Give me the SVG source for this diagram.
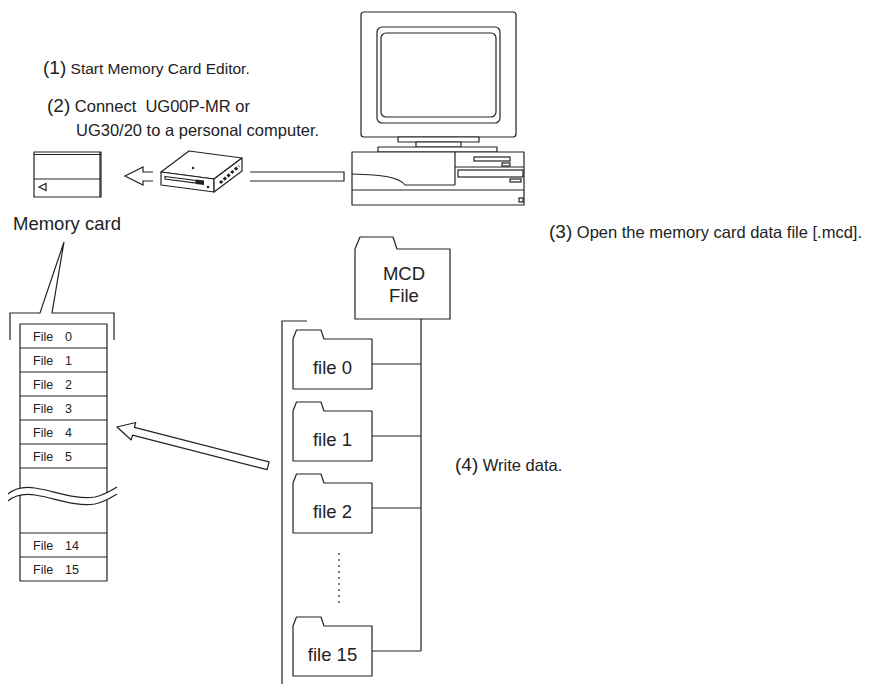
<svg xmlns="http://www.w3.org/2000/svg" width="870" height="684" viewBox="0 0 870 684">
  <style>
    .ln { fill: none; stroke: #222; stroke-width: 1.2; }
    .sh { fill: #fff; stroke: #222; stroke-width: 1.2; stroke-linejoin: round; }
    .tx { font-family: "Liberation Sans", Arial, sans-serif; fill: #222; white-space: pre; }
    .lbl { font-size: 16.5px; }
    .num { font-size: 19px; }
    .row { font-size: 12.5px; }
    .fld { font-size: 18.5px; text-anchor: middle; }
  </style>
  <defs>
    <!-- folder outline; origin at the top-left of the body -->
    <path id="folder" d="M0,50 V0 L3.5,-9 H28 L31,0 H79 V50 Z"/>
  </defs>
  <rect width="870" height="684" fill="#fff"/>

  <!-- step captions -->
  <g id="captions" class="tx">
    <text x="43" y="74" class="tx" font-size="15.5px"><tspan class="num">(1)</tspan> Start Memory Card Editor.</text>
    <text x="47" y="112" class="tx lbl"><tspan class="num">(2)</tspan> Connect  UG00P-MR or</text>
    <text x="76" y="136" class="tx lbl">UG30/20 to a personal computer.</text>
    <text x="549" y="238" class="tx lbl"><tspan class="num">(3)</tspan> Open the memory card data file [.mcd].</text>
    <text x="455" y="471" class="tx lbl"><tspan class="num">(4)</tspan> Write data.</text>
  </g>

  <!-- memory card -->
  <g id="memory-card">
    <rect x="34" y="152" width="67" height="45" class="sh"/>
    <line x1="34" y1="154.5" x2="101" y2="154.5" class="ln"/>
    <line x1="100" y1="152" x2="100" y2="197" class="ln" stroke-width="2"/>
    <line x1="34" y1="179" x2="101" y2="179" class="ln"/>
    <polygon points="39,187 46,183.5 46,190.5" class="ln"/>
    <text x="13" y="230" class="tx" font-size="18.5">Memory card</text>
  </g>

  <!-- card reader -->
  <g id="card-reader">
    <polygon points="161,172 189,151 242,158 214,179" class="sh"/>
    <polygon points="161,172 214,179 214,192 161,185" class="sh"/>
    <polygon points="214,179 242,158 242,171 214,192" class="sh"/>
    <polygon points="165,176.5 196,180.5 196,183 165,179" class="ln"/>
    <polygon points="196,179.5 204,180.5 204,185 196,184" fill="#222"/>
    <circle cx="193" cy="168" r="1.2" fill="#222"/>
    <circle cx="208" cy="187" r="1.3" fill="#222"/>
    <line x1="220" y1="183" x2="239" y2="166" stroke="#222" stroke-width="3" stroke-dasharray="3 2"/>
  </g>

  <!-- personal computer -->
  <g id="computer">
    <rect x="361" y="12" width="155" height="125" rx="3" class="sh"/>
    <rect x="377" y="27" width="123" height="96" rx="5" class="sh"/>
    <rect x="381" y="33" width="115" height="84" rx="5" class="sh"/>
    <rect x="398" y="137" width="81" height="5" class="sh"/>
    <rect x="416" y="142" width="45" height="5" class="sh"/>
    <rect x="378" y="147" width="119" height="5" class="sh"/>
    <rect x="352" y="152" width="172" height="53" class="sh"/>
    <line x1="352" y1="190" x2="524" y2="190" class="ln"/>
    <rect x="519" y="198" width="4" height="4" class="ln"/>
    <line x1="455" y1="152" x2="455" y2="185" class="ln"/>
    <line x1="455" y1="167" x2="524" y2="167" class="ln"/>
    <rect x="474" y="157" width="36" height="4" class="ln"/>
    <rect x="502" y="163" width="8" height="3" class="ln"/>
    <rect x="458" y="170" width="65" height="7" class="ln"/>
    <rect x="510" y="179" width="11" height="3" class="ln"/>
    <path d="M352,174 C380,175 398,176 405,185 L455,185" class="ln"/>
  </g>

  <!-- memory card contents -->
  <g id="card-files">
    <rect x="20" y="324" width="87" height="257" class="sh"/>
    <path d="M20,348 H107 M20,372 H107 M20,396 H107 M20,420 H107 M20,444 H107 M20,468 H107 M20,533 H107 M20,557 H107" class="ln"/>
    <!-- break mark -->
    <path d="M8,494 C14,489 22,486 35,488 C55,491 75,500 95,497 C105,495 112,490 117,487 L117,494 C112,497 105,502 95,504 C75,507 55,498 35,495 C22,493 14,496 8,501 Z" fill="#fff"/>
    <path d="M8,494 C14,489 22,486 35,488 C55,491 75,500 95,497 C105,495 112,490 117,487" class="ln"/>
    <path d="M8,501 C14,496 22,493 35,495 C55,498 75,507 95,504 C105,502 112,497 117,494" class="ln"/>
    <g class="tx row">
      <text x="33" y="341">File <tspan x="65">0</tspan></text>
      <text x="33" y="365">File <tspan x="65">1</tspan></text>
      <text x="33" y="389">File <tspan x="65">2</tspan></text>
      <text x="33" y="413">File <tspan x="65">3</tspan></text>
      <text x="33" y="437">File <tspan x="65">4</tspan></text>
      <text x="33" y="461">File <tspan x="65">5</tspan></text>
      <text x="33" y="550">File <tspan x="65">14</tspan></text>
      <text x="33" y="574">File <tspan x="65">15</tspan></text>
    </g>
  </g>

  <!-- mcd file and its folders -->
  <g id="mcd-file">
    <path d="M355,319 V249 L360,237 H393 L397,249 H450 V319 Z" class="sh"/>
    <text x="404" y="280" class="tx fld" font-size="19">MCD</text>
    <text x="404" y="302" class="tx fld" font-size="19">File</text>
  </g>
  <g id="folder-0">
    <use href="#folder" x="293" y="339" class="sh"/>
    <text x="332.5" y="374" class="tx fld">file 0</text>
  </g>
  <g id="folder-1">
    <use href="#folder" x="293" y="411" class="sh"/>
    <text x="332.5" y="446" class="tx fld">file 1</text>
  </g>
  <g id="folder-2">
    <use href="#folder" x="293" y="483" class="sh"/>
    <text x="332.5" y="518" class="tx fld">file 2</text>
  </g>
  <g id="folder-15">
    <use href="#folder" x="293" y="626" class="sh"/>
    <text x="332.5" y="661" class="tx fld">file 15</text>
  </g>

  <!-- connectors -->
  <g id="connectors">
    <!-- callout from label to card contents -->
    <path d="M64,242 L40,313 H10 V340 M64,242 L52,313 H114 V340" class="ln"/>
    <!-- transfer arrow reader to card -->
    <path d="M153,172 H143 V167 L125,176 L143,185 V181 H153" class="ln"/>
    <!-- cable -->
    <path d="M250,172 H344 V181 H250" class="ln"/>
    <!-- write-data arrow -->
    <polygon points="0,0 17,-9 17,-4 156,-4 156,4 17,4 17,9" transform="translate(117,427) rotate(14.4)" class="sh"/>
    <!-- bracket around folders -->
    <path d="M307,321 H282 V684" class="ln"/>
    <!-- trunk and branches -->
    <path d="M421,319 V651 M372,364 H421 M372,436 H421 M372,508 H421 M372,651 H421" class="ln"/>
    <line x1="339" y1="553" x2="339" y2="606" class="ln" stroke-dasharray="2 4"/>
  </g>
</svg>
